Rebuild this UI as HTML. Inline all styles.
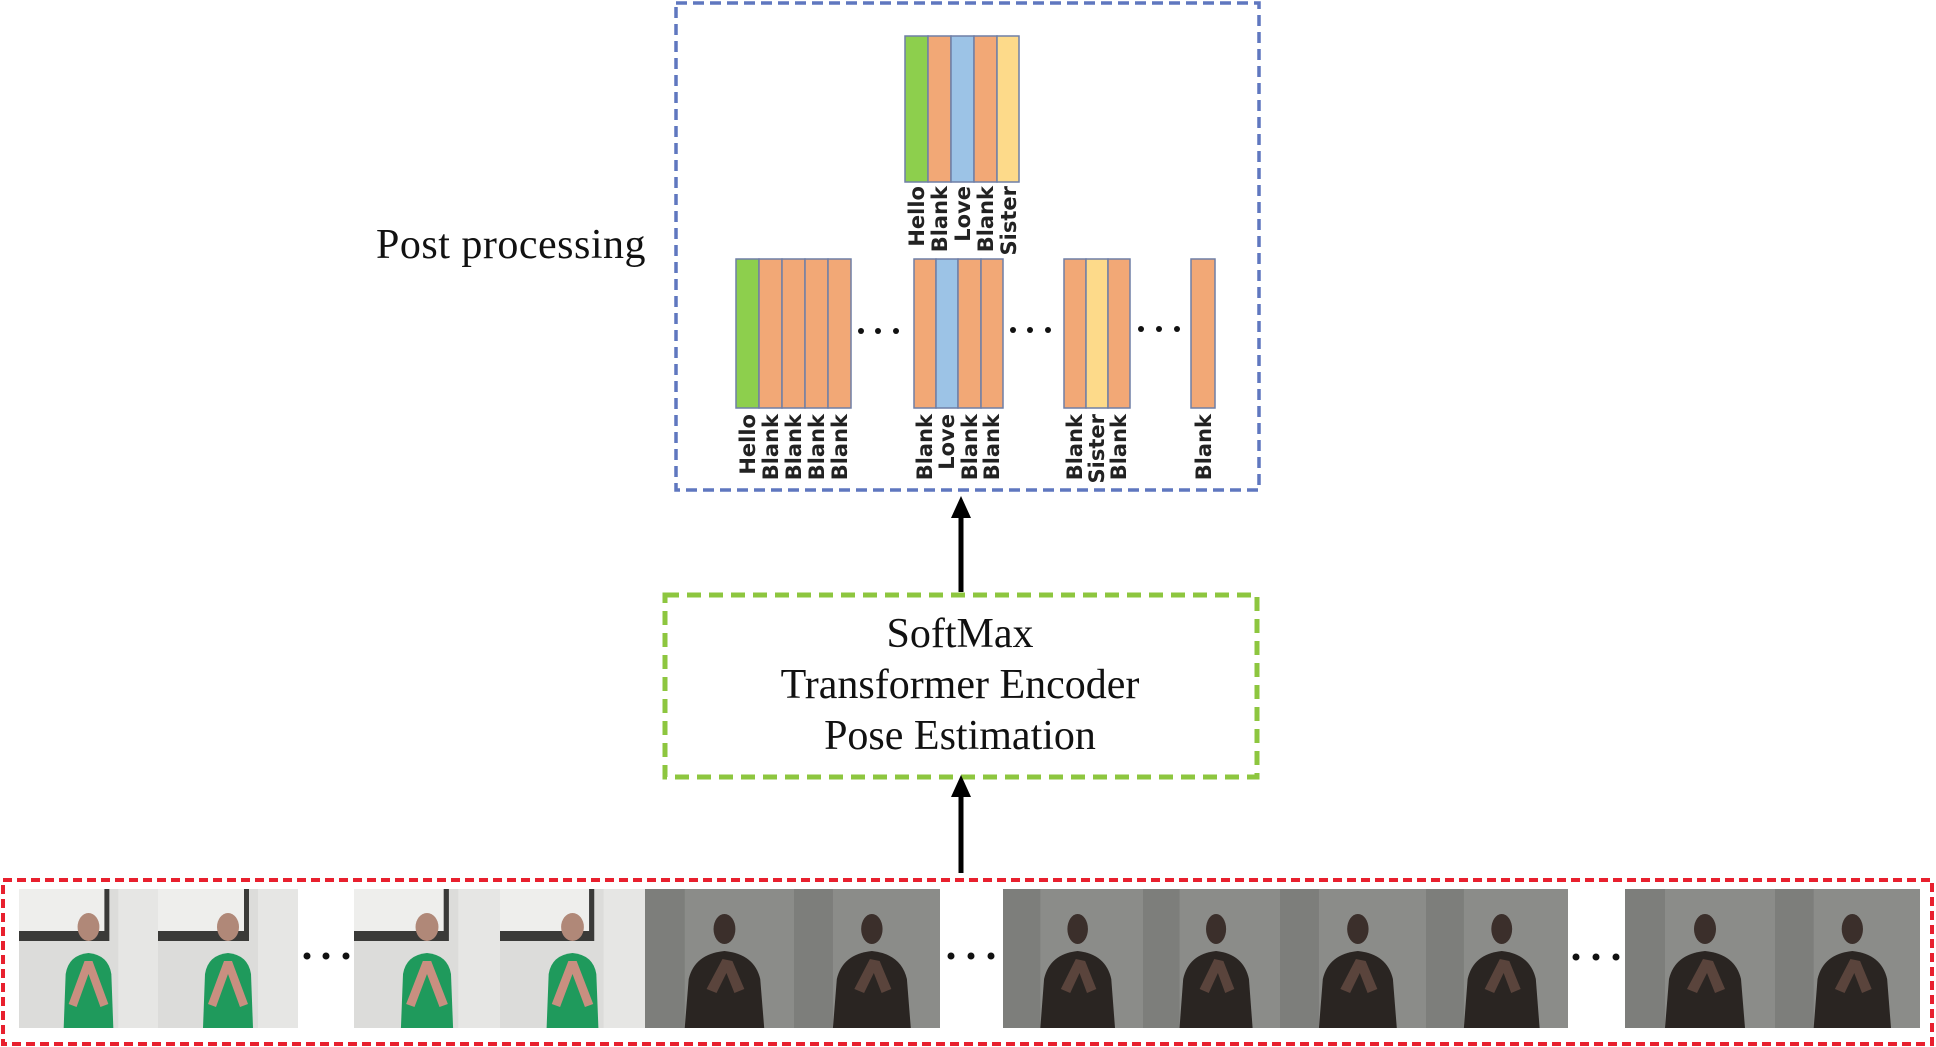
<!DOCTYPE html>
<html><head><meta charset="utf-8"><style>
html,body{margin:0;padding:0;background:#fff;}
svg{display:block;}
.lab{font-family:"DejaVu Sans","Liberation Sans",sans-serif;font-size:21px;fill:#222;font-weight:600;}
.ser{font-family:"Liberation Serif",serif;fill:#111;}
</style></head><body>
<svg width="1936" height="1047" viewBox="0 0 1936 1047" xmlns="http://www.w3.org/2000/svg">
<defs>
<g id="lightp">
  <rect x="0" y="0" width="140" height="139" fill="#dcdcda"/>
  <rect x="0" y="0" width="90" height="42" fill="#eeeeec"/>
  <rect x="0" y="42" width="90" height="10" fill="#3a3a38"/>
  <rect x="86" y="0" width="5" height="52" fill="#3a3a38"/>
  <rect x="100" y="0" width="40" height="139" fill="#e6e6e4"/>
  <ellipse cx="70" cy="38" rx="11" ry="14" fill="#b08878"/>
  <path d="M45 139 L47 85 Q50 66 70 64 Q90 66 93 85 L95 139 Z" fill="#1f9a5c"/>
  <path d="M50 115 L66 72 L74 72 L90 115 L82 118 L70 85 L58 118 Z" fill="#c98f80"/>
</g>
<g id="darkp">
  <rect x="0" y="0" width="150" height="139" fill="#8b8c89"/>
  <rect x="0" y="0" width="40" height="139" fill="#7d7e7b"/>
  <ellipse cx="80" cy="40" rx="11" ry="15" fill="#3b2f2b"/>
  <path d="M40 139 L44 90 Q50 65 80 62 Q110 65 116 90 L120 139 Z" fill="#2a2522"/>
  <path d="M62 100 L78 70 L88 72 L100 100 L90 104 L82 84 L72 104 Z" fill="#5a443c"/>
</g>
</defs>

<rect x="676" y="3" width="583" height="487" fill="none" stroke="#5f77bf" stroke-width="3.5" stroke-dasharray="11 6"/>
<text class="ser" x="376" y="258" font-size="42" letter-spacing="0.5">Post processing</text>

<g stroke="#6f7fa6" stroke-width="1.5">
<rect x="905" y="36" width="23" height="146" fill="#8dcf4d"/>
<rect x="928" y="36" width="23" height="146" fill="#f2a876"/>
<rect x="951" y="36" width="23" height="146" fill="#9cc3e6"/>
<rect x="974" y="36" width="23" height="146" fill="#f2a876"/>
<rect x="997" y="36" width="22" height="146" fill="#fdda8a"/>
</g>
<g class="lab">
<text transform="translate(924,186) rotate(-90)" text-anchor="end">Hello</text>
<text transform="translate(947,186) rotate(-90)" text-anchor="end">Blank</text>
<text transform="translate(970,186) rotate(-90)" text-anchor="end">Love</text>
<text transform="translate(993,186) rotate(-90)" text-anchor="end">Blank</text>
<text transform="translate(1016,186) rotate(-90)" text-anchor="end">Sister</text>
</g>

<g stroke="#6f7fa6" stroke-width="1.5">
<rect x="736" y="259" width="23" height="149" fill="#8dcf4d"/>
<rect x="759" y="259" width="23" height="149" fill="#f2a876"/>
<rect x="782" y="259" width="23" height="149" fill="#f2a876"/>
<rect x="805" y="259" width="23" height="149" fill="#f2a876"/>
<rect x="828" y="259" width="23" height="149" fill="#f2a876"/>

<rect x="914" y="259" width="22" height="149" fill="#f2a876"/>
<rect x="936" y="259" width="22" height="149" fill="#9cc3e6"/>
<rect x="958" y="259" width="23" height="149" fill="#f2a876"/>
<rect x="981" y="259" width="22" height="149" fill="#f2a876"/>

<rect x="1064" y="259" width="22" height="149" fill="#f2a876"/>
<rect x="1086" y="259" width="22" height="149" fill="#fdda8a"/>
<rect x="1108" y="259" width="22" height="149" fill="#f2a876"/>

<rect x="1191" y="259" width="24" height="149" fill="#f2a876"/>
</g>
<g fill="#111">
<circle cx="861" cy="331" r="3"/><circle cx="878" cy="331" r="3"/><circle cx="896" cy="331" r="3"/>
<circle cx="1013" cy="330" r="3"/><circle cx="1030" cy="330" r="3"/><circle cx="1048" cy="330" r="3"/>
<circle cx="1141" cy="329" r="3"/><circle cx="1159" cy="329" r="3"/><circle cx="1177" cy="329" r="3"/>
</g>
<g class="lab">
<text transform="translate(755,414) rotate(-90)" text-anchor="end">Hello</text>
<text transform="translate(778,414) rotate(-90)" text-anchor="end">Blank</text>
<text transform="translate(801,414) rotate(-90)" text-anchor="end">Blank</text>
<text transform="translate(824,414) rotate(-90)" text-anchor="end">Blank</text>
<text transform="translate(847,414) rotate(-90)" text-anchor="end">Blank</text>
<text transform="translate(932,414) rotate(-90)" text-anchor="end">Blank</text>
<text transform="translate(954,414) rotate(-90)" text-anchor="end">Love</text>
<text transform="translate(977,414) rotate(-90)" text-anchor="end">Blank</text>
<text transform="translate(999,414) rotate(-90)" text-anchor="end">Blank</text>
<text transform="translate(1082,414) rotate(-90)" text-anchor="end">Blank</text>
<text transform="translate(1104,414) rotate(-90)" text-anchor="end">Sister</text>
<text transform="translate(1126,414) rotate(-90)" text-anchor="end">Blank</text>
<text transform="translate(1211,414) rotate(-90)" text-anchor="end">Blank</text>
</g>

<line x1="961" y1="592" x2="961" y2="515" stroke="#000" stroke-width="5"/>
<polygon points="961,496 951,518 971,518" fill="#000"/>

<rect x="665" y="595" width="592" height="182" fill="none" stroke="#8dc63f" stroke-width="5" stroke-dasharray="14 8"/>
<g class="ser" font-size="42" text-anchor="middle">
<text x="960" y="647">SoftMax</text>
<text x="960" y="698">Transformer Encoder</text>
<text x="960" y="749">Pose Estimation</text>
</g>

<line x1="961" y1="873" x2="961" y2="794" stroke="#000" stroke-width="5"/>
<polygon points="961,775 951,797 971,797" fill="#000"/>

<rect x="3" y="880" width="1929" height="164" fill="none" stroke="#e8202e" stroke-width="4" stroke-dasharray="9 5"/>

<svg x="19" y="889" width="139" height="139" viewBox="0 0 140 139" preserveAspectRatio="none"><use href="#lightp"/></svg>
<svg x="158" y="889" width="140" height="139" viewBox="0 0 140 139" preserveAspectRatio="none"><use href="#lightp"/></svg>
<svg x="354" y="889" width="146" height="139" viewBox="0 0 140 139" preserveAspectRatio="none"><use href="#lightp"/></svg>
<svg x="500" y="889" width="145" height="139" viewBox="0 0 140 139" preserveAspectRatio="none"><use href="#lightp"/></svg>
<svg x="645" y="889" width="149" height="139" viewBox="0 0 150 139" preserveAspectRatio="none"><use href="#darkp"/></svg>
<svg x="794" y="889" width="146" height="139" viewBox="0 0 150 139" preserveAspectRatio="none"><use href="#darkp"/></svg>
<svg x="1003" y="889" width="140" height="139" viewBox="0 0 150 139" preserveAspectRatio="none"><use href="#darkp"/></svg>
<svg x="1143" y="889" width="137" height="139" viewBox="0 0 150 139" preserveAspectRatio="none"><use href="#darkp"/></svg>
<svg x="1280" y="889" width="146" height="139" viewBox="0 0 150 139" preserveAspectRatio="none"><use href="#darkp"/></svg>
<svg x="1426" y="889" width="142" height="139" viewBox="0 0 150 139" preserveAspectRatio="none"><use href="#darkp"/></svg>
<svg x="1625" y="889" width="150" height="139" viewBox="0 0 150 139" preserveAspectRatio="none"><use href="#darkp"/></svg>
<svg x="1775" y="889" width="145" height="139" viewBox="0 0 150 139" preserveAspectRatio="none"><use href="#darkp"/></svg>

<g fill="#111">
<circle cx="307" cy="956" r="3.5"/><circle cx="326" cy="956" r="3.5"/><circle cx="346" cy="956" r="3.5"/>
<circle cx="951" cy="956" r="3.5"/><circle cx="971" cy="956" r="3.5"/><circle cx="991" cy="956" r="3.5"/>
<circle cx="1576" cy="957" r="3.5"/><circle cx="1596" cy="957" r="3.5"/><circle cx="1616" cy="957" r="3.5"/>
</g>
</svg>
</body></html>
